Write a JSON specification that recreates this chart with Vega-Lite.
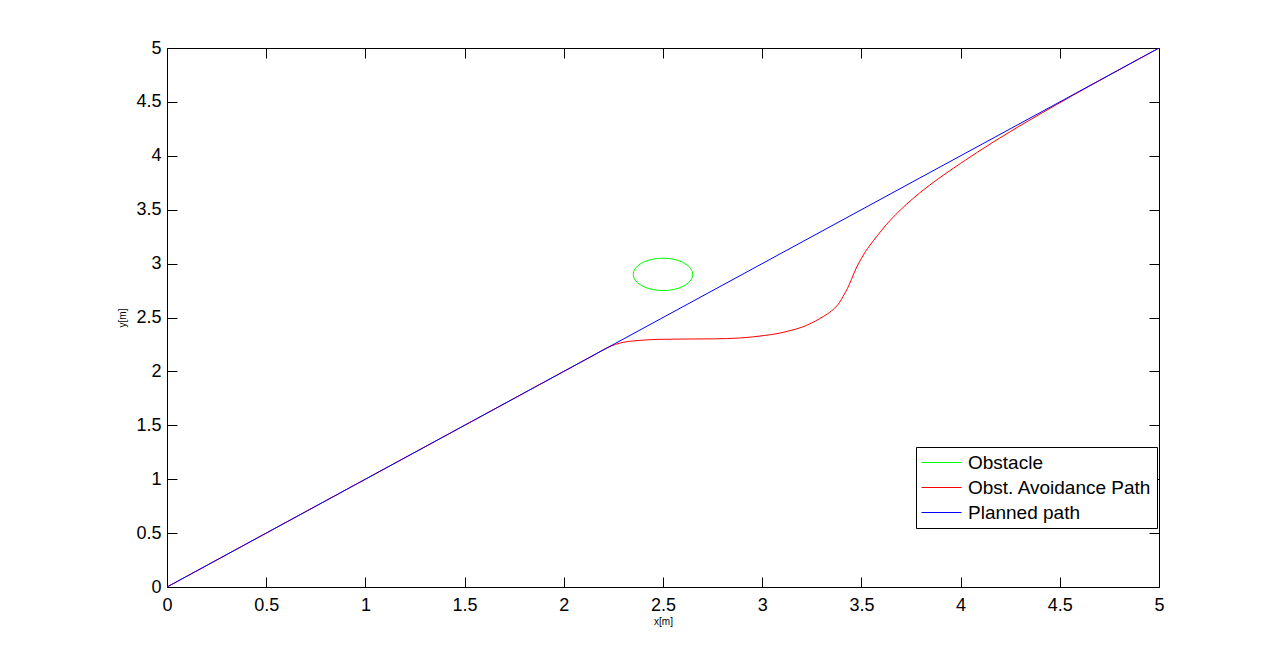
{
  "$schema": "https://vega.github.io/schema/vega-lite/v6.json",
  "width": 992,
  "height": 539,
  "autosize": "none",
  "padding": {"left": 167, "top": 48, "right": 122, "bottom": 73},
  "background": "white",
  "config": {
    "font": "Liberation Sans",
    "view": {"stroke": null},
    "axis": {
      "domainColor": "black",
      "domainWidth": 1,
      "tickColor": "black",
      "tickSize": -10,
      "grid": false,
      "labelFont": "Liberation Sans",
      "labelFontSize": 18,
      "labelColor": "black",
      "titleFont": "Liberation Sans",
      "titleFontSize": 10,
      "titleFontWeight": "normal",
      "titleColor": "black"
    }
  },
  "datasets": {
    "obstacle": [
      {"series": "Obstacle", "i": 0, "x": 2.65, "y": 2.9},
      {"series": "Obstacle", "i": 1, "x": 2.648, "y": 2.926},
      {"series": "Obstacle", "i": 2, "x": 2.641, "y": 2.951},
      {"series": "Obstacle", "i": 3, "x": 2.63, "y": 2.975},
      {"series": "Obstacle", "i": 4, "x": 2.615, "y": 2.996},
      {"series": "Obstacle", "i": 5, "x": 2.596, "y": 3.015},
      {"series": "Obstacle", "i": 6, "x": 2.575, "y": 3.03},
      {"series": "Obstacle", "i": 7, "x": 2.551, "y": 3.041},
      {"series": "Obstacle", "i": 8, "x": 2.526, "y": 3.048},
      {"series": "Obstacle", "i": 9, "x": 2.5, "y": 3.05},
      {"series": "Obstacle", "i": 10, "x": 2.474, "y": 3.048},
      {"series": "Obstacle", "i": 11, "x": 2.449, "y": 3.041},
      {"series": "Obstacle", "i": 12, "x": 2.425, "y": 3.03},
      {"series": "Obstacle", "i": 13, "x": 2.404, "y": 3.015},
      {"series": "Obstacle", "i": 14, "x": 2.385, "y": 2.996},
      {"series": "Obstacle", "i": 15, "x": 2.37, "y": 2.975},
      {"series": "Obstacle", "i": 16, "x": 2.359, "y": 2.951},
      {"series": "Obstacle", "i": 17, "x": 2.352, "y": 2.926},
      {"series": "Obstacle", "i": 18, "x": 2.35, "y": 2.9},
      {"series": "Obstacle", "i": 19, "x": 2.352, "y": 2.874},
      {"series": "Obstacle", "i": 20, "x": 2.359, "y": 2.849},
      {"series": "Obstacle", "i": 21, "x": 2.37, "y": 2.825},
      {"series": "Obstacle", "i": 22, "x": 2.385, "y": 2.804},
      {"series": "Obstacle", "i": 23, "x": 2.404, "y": 2.785},
      {"series": "Obstacle", "i": 24, "x": 2.425, "y": 2.77},
      {"series": "Obstacle", "i": 25, "x": 2.449, "y": 2.759},
      {"series": "Obstacle", "i": 26, "x": 2.474, "y": 2.752},
      {"series": "Obstacle", "i": 27, "x": 2.5, "y": 2.75},
      {"series": "Obstacle", "i": 28, "x": 2.526, "y": 2.752},
      {"series": "Obstacle", "i": 29, "x": 2.551, "y": 2.759},
      {"series": "Obstacle", "i": 30, "x": 2.575, "y": 2.77},
      {"series": "Obstacle", "i": 31, "x": 2.596, "y": 2.785},
      {"series": "Obstacle", "i": 32, "x": 2.615, "y": 2.804},
      {"series": "Obstacle", "i": 33, "x": 2.63, "y": 2.825},
      {"series": "Obstacle", "i": 34, "x": 2.641, "y": 2.849},
      {"series": "Obstacle", "i": 35, "x": 2.648, "y": 2.874},
      {"series": "Obstacle", "i": 36, "x": 2.65, "y": 2.9}
    ],
    "avoid": [
      {"series": "Obst. Avoidance Path", "i": 0, "x": 0, "y": 0},
      {"series": "Obst. Avoidance Path", "i": 1, "x": 1, "y": 1},
      {"series": "Obst. Avoidance Path", "i": 2, "x": 2, "y": 2},
      {"series": "Obst. Avoidance Path", "i": 3, "x": 2.15, "y": 2.15},
      {"series": "Obst. Avoidance Path", "i": 4, "x": 2.22, "y": 2.22},
      {"series": "Obst. Avoidance Path", "i": 5, "x": 2.26, "y": 2.25},
      {"series": "Obst. Avoidance Path", "i": 6, "x": 2.3, "y": 2.27},
      {"series": "Obst. Avoidance Path", "i": 7, "x": 2.35, "y": 2.283},
      {"series": "Obst. Avoidance Path", "i": 8, "x": 2.4, "y": 2.29},
      {"series": "Obst. Avoidance Path", "i": 9, "x": 2.47, "y": 2.297},
      {"series": "Obst. Avoidance Path", "i": 10, "x": 2.6, "y": 2.3},
      {"series": "Obst. Avoidance Path", "i": 11, "x": 2.75, "y": 2.302},
      {"series": "Obst. Avoidance Path", "i": 12, "x": 2.89, "y": 2.31},
      {"series": "Obst. Avoidance Path", "i": 13, "x": 3.01, "y": 2.333},
      {"series": "Obst. Avoidance Path", "i": 14, "x": 3.08, "y": 2.352},
      {"series": "Obst. Avoidance Path", "i": 15, "x": 3.14, "y": 2.378},
      {"series": "Obst. Avoidance Path", "i": 16, "x": 3.2, "y": 2.41},
      {"series": "Obst. Avoidance Path", "i": 17, "x": 3.25, "y": 2.45},
      {"series": "Obst. Avoidance Path", "i": 18, "x": 3.29, "y": 2.49},
      {"series": "Obst. Avoidance Path", "i": 19, "x": 3.33, "y": 2.535},
      {"series": "Obst. Avoidance Path", "i": 20, "x": 3.365, "y": 2.586},
      {"series": "Obst. Avoidance Path", "i": 21, "x": 3.39, "y": 2.64},
      {"series": "Obst. Avoidance Path", "i": 22, "x": 3.407, "y": 2.694},
      {"series": "Obst. Avoidance Path", "i": 23, "x": 3.43, "y": 2.77},
      {"series": "Obst. Avoidance Path", "i": 24, "x": 3.449, "y": 2.85},
      {"series": "Obst. Avoidance Path", "i": 25, "x": 3.474, "y": 2.958},
      {"series": "Obst. Avoidance Path", "i": 26, "x": 3.499, "y": 3.045},
      {"series": "Obst. Avoidance Path", "i": 27, "x": 3.52, "y": 3.11},
      {"series": "Obst. Avoidance Path", "i": 28, "x": 3.541, "y": 3.165},
      {"series": "Obst. Avoidance Path", "i": 29, "x": 3.58, "y": 3.258},
      {"series": "Obst. Avoidance Path", "i": 30, "x": 3.625, "y": 3.36},
      {"series": "Obst. Avoidance Path", "i": 31, "x": 3.675, "y": 3.458},
      {"series": "Obst. Avoidance Path", "i": 32, "x": 3.726, "y": 3.548},
      {"series": "Obst. Avoidance Path", "i": 33, "x": 3.793, "y": 3.655},
      {"series": "Obst. Avoidance Path", "i": 34, "x": 3.89, "y": 3.79},
      {"series": "Obst. Avoidance Path", "i": 35, "x": 4.0, "y": 3.93},
      {"series": "Obst. Avoidance Path", "i": 36, "x": 4.08, "y": 4.028},
      {"series": "Obst. Avoidance Path", "i": 37, "x": 4.165, "y": 4.128},
      {"series": "Obst. Avoidance Path", "i": 38, "x": 4.25, "y": 4.224},
      {"series": "Obst. Avoidance Path", "i": 39, "x": 4.33, "y": 4.312},
      {"series": "Obst. Avoidance Path", "i": 40, "x": 4.42, "y": 4.408},
      {"series": "Obst. Avoidance Path", "i": 41, "x": 4.5, "y": 4.492},
      {"series": "Obst. Avoidance Path", "i": 42, "x": 4.6, "y": 4.596},
      {"series": "Obst. Avoidance Path", "i": 43, "x": 4.7, "y": 4.698},
      {"series": "Obst. Avoidance Path", "i": 44, "x": 4.8, "y": 4.799},
      {"series": "Obst. Avoidance Path", "i": 45, "x": 5, "y": 5}
    ],
    "planned": [
      {"series": "Planned path", "i": 0, "x": 0, "y": 0},
      {"series": "Planned path", "i": 1, "x": 5, "y": 5}
    ]
  },
  "layer": [
    {
      "data": {"name": "obstacle"},
      "mark": {"type": "line", "strokeWidth": 1, "clip": true},
      "encoding": {
        "x": {
          "field": "x", "type": "quantitative",
          "scale": {"domain": [0, 5], "nice": false, "zero": false},
          "axis": {"orient": "bottom", "title": "x[m]", "format": "~g", "values": [0, 0.5, 1, 1.5, 2, 2.5, 3, 3.5, 4, 4.5, 5], "labelPadding": 19, "titlePadding": 2, "labelFlush": false}
        },
        "y": {
          "field": "y", "type": "quantitative",
          "scale": {"domain": [0, 5], "nice": false, "zero": false},
          "axis": {"orient": "left", "title": "y[m]", "format": "~g", "values": [0, 0.5, 1, 1.5, 2, 2.5, 3, 3.5, 4, 4.5, 5], "labelPadding": 16, "titlePadding": 8, "labelFlush": false}
        },
        "color": {
          "field": "series", "type": "nominal",
          "scale": {"domain": ["Obstacle", "Obst. Avoidance Path", "Planned path"], "range": ["#00ff00", "#ff0000", "#0000ff"]},
          "legend": {
            "title": null,
            "orient": "none",
            "legendX": 749,
            "legendY": 399,
            "symbolType": "M-1,0H3",
            "symbolSize": 400,
            "symbolStrokeWidth": 1,
            "labelFontSize": 19,
            "labelFont": "Liberation Sans",
            "labelColor": "black",
            "labelOffset": 26,
            "labelLimit": 400,
            "rowPadding": 4,
            "padding": 5,
            "strokeColor": "black",
            "fillColor": "white",
            "cornerRadius": 0
          }
        },
        "order": {"field": "i", "type": "quantitative"}
      }
    },
    {
      "data": {"name": "avoid"},
      "mark": {"type": "line", "strokeWidth": 1, "clip": true, "interpolate": "monotone"},
      "encoding": {
        "x": {"field": "x", "type": "quantitative", "axis": null},
        "y": {"field": "y", "type": "quantitative", "axis": null},
        "color": {"field": "series", "type": "nominal"},
        "order": {"field": "i", "type": "quantitative"}
      }
    },
    {
      "data": {"name": "planned"},
      "mark": {"type": "line", "strokeWidth": 1, "clip": true},
      "encoding": {
        "x": {"field": "x", "type": "quantitative", "axis": null},
        "y": {"field": "y", "type": "quantitative", "axis": null},
        "color": {"field": "series", "type": "nominal"},
        "order": {"field": "i", "type": "quantitative"}
      }
    },
    {
      "data": {"values": [{"x": 0, "y": 0}]},
      "mark": {"type": "line", "opacity": 0},
      "encoding": {
        "x": {"field": "x", "type": "quantitative", "axis": {"orient": "top", "title": null, "labels": false, "values": [0, 0.5, 1, 1.5, 2, 2.5, 3, 3.5, 4, 4.5, 5]}},
        "y": {"field": "y", "type": "quantitative", "axis": {"orient": "right", "title": null, "labels": false, "values": [0, 0.5, 1, 1.5, 2, 2.5, 3, 3.5, 4, 4.5, 5]}}
      }
    }
  ],
  "resolve": {"axis": {"x": "independent", "y": "independent"}}
}
